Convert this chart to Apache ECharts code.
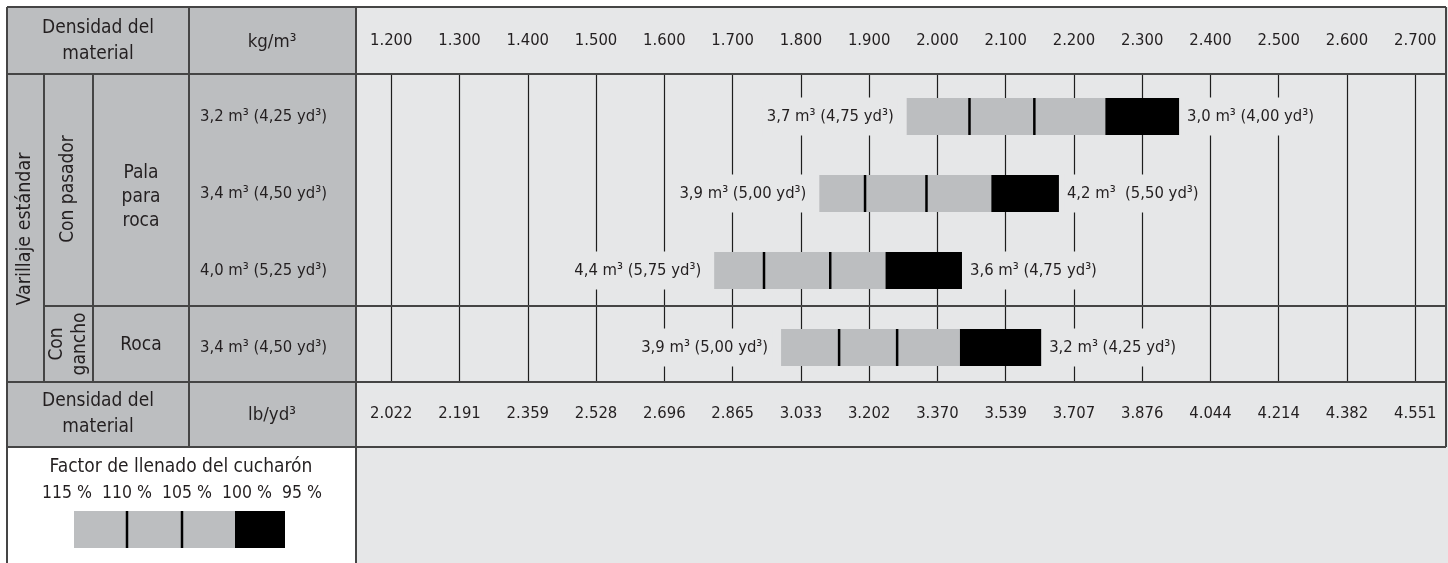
<!DOCTYPE html>
<html>
<head>
<meta charset="utf-8">
<script src="https://cdn.jsdelivr.net/npm/echarts@6/dist/echarts.min.js"></script>
<style>
html,body{margin:0;padding:0;background:#fff;}
#c{width:1448px;height:563px;}
</style>
</head>
<body>
<div id="c"></div>
<script>
// ---- data ----
const kgValues = [1200,1300,1400,1500,1600,1700,1800,1900,2000,2100,2200,2300,2400,2500,2600,2700];
const kgLabels = ['1.200','1.300','1.400','1.500','1.600','1.700','1.800','1.900','2.000','2.100','2.200','2.300','2.400','2.500','2.600','2.700'];
const lbLabels = ['2.022','2.191','2.359','2.528','2.696','2.865','3.033','3.202','3.370','3.539','3.707','3.876','4.044','4.214','4.382','4.551'];
const bucketLabels = ['3,2 m³ (4,25 yd³)','3,4 m³ (4,50 yd³)','4,0 m³ (5,25 yd³)','3,4 m³ (4,50 yd³)'];
const f115 = [1955, 1827, 1673, 1771];
const f110 = [2047, 1894, 1746, 1856];
const f105 = [2142, 1984, 1843, 1941];
const f100 = [2246, 2079, 1924, 2033];
const f95  = [2354, 2178, 2036, 2152];
const leftLabels  = ['3,7 m³ (4,75 yd³)','3,9 m³ (5,00 yd³)','4,4 m³ (5,75 yd³)','3,9 m³ (5,00 yd³)'];
const rightLabels = ['3,0 m³ (4,00 yd³)','4,2 m³  (5,50 yd³)','3,6 m³ (4,75 yd³)','3,2 m³ (4,25 yd³)'];
const fillFactors = ['115 %','110 %','105 %','100 %','95 %'];

// ---- styles ----
const FONT = '"Liberation Sans Narrow","Arial Narrow","DejaVu Sans Condensed",sans-serif';
const TXT = '#231f20';
const LIGHT = '#e6e7e8';
const MID = '#bcbec0';
const LINE = '#454545';
const NUM = 16.5;   // numeric text size
const WRD = 19;     // word text size

const rows = f115.map((v,i)=>[f115[i],f110[i],f105[i],f100[i],f95[i],i]);

function lbl(v, arr){ const i = kgValues.indexOf(v); return i < 0 ? '' : arr[i]; }

const g = [];
function rect(x,y,w,h,fill,z){ g.push({type:'rect',shape:{x,y,width:w,height:h},style:{fill},z:z===undefined?-5:z,silent:true}); }
function line(x1,y1,x2,y2,w,c,z){ g.push({type:'line',shape:{x1,y1,x2,y2},style:{stroke:c||LINE,lineWidth:w||2},z:z===undefined?20:z,silent:true}); }
function text(t,x,y,size,opts){ g.push(Object.assign({type:'text',x,y,z:20,silent:true,style:{text:t,fill:TXT,font:size+'px '+FONT,align:'center',verticalAlign:'middle',lineHeight:(opts&&opts.lh)||size}},opts&&opts.extra||{})); }

// backgrounds
rect(356,7,1092,556,LIGHT);
rect(7,7,349,440,MID);
// frame lines
line(7,7,1446,7);
line(7,74,1446,74);
line(44,306,1446,306);
line(7,382,1446,382);
line(7,447,1446,447);
line(7,7,7,563);
line(44,74,44,382);
line(93,74,93,382);
line(189,7,189,447);
line(356,7,356,563);
line(1446,7,1446,447);
// header texts
text('Densidad del\nmaterial',98,41,WRD,{lh:26});
text('kg/m³',272,42,WRD-0.5);
text('Varillaje estándar',25,229,WRD+0.5,{extra:{rotation:Math.PI/2}});
text('Con pasador',68,189,WRD,{extra:{rotation:Math.PI/2}});
text('Con\ngancho',69,344,WRD,{lh:23,extra:{rotation:Math.PI/2}});
text('Pala\npara\nroca',141,197,WRD,{lh:24});
text('Roca',141,345,WRD);
text('Densidad del\nmaterial',98,414,WRD,{lh:26});
text('lb/yd³',272,415,WRD-0.5);
// legend
text('Factor de llenado del cucharón',181,467,WRD);
text(fillFactors.join('  '),182,493,NUM+1);
rect(74,511,161,37,MID,10);
rect(235,511,50,37,'#000',10);
line(127,511,127,548,2.5,'#000');
line(182,511,182,548,2.5,'#000');

const chart = echarts.init(document.getElementById('c'));
chart.setOption({
  animation:false,
  backgroundColor:'#ffffff',
  grid:[
    {left:323,right:2,top:74,bottom:181},
    {left:323,right:2,top:78,bottom:177}
  ],
  xAxis:[
    {gridIndex:0,type:'value',position:'top',min:1100,max:2745,interval:100,
     axisLine:{show:false},axisTick:{show:false},
     splitLine:{show:true,showMinLine:false,showMaxLine:false,lineStyle:{color:'#1e1e1e',width:1.2}},
     axisLabel:{margin:33,verticalAlign:'middle',fontSize:NUM,fontFamily:FONT,color:TXT,
       formatter:v=>lbl(v,kgLabels),showMinLabel:false,showMaxLabel:false}},
    {gridIndex:0,type:'value',position:'bottom',min:1100,max:2745,interval:100,
     axisLine:{show:false},axisTick:{show:false},splitLine:{show:false},
     axisLabel:{margin:32,verticalAlign:'middle',fontSize:NUM,fontFamily:FONT,color:TXT,
       formatter:v=>lbl(v,lbLabels),showMinLabel:false,showMaxLabel:false}},
    {gridIndex:1,type:'value',min:1100,max:2745,show:false}
  ],
  yAxis:[
    {gridIndex:0,type:'value',show:false},
    {gridIndex:1,type:'category',data:bucketLabels,inverse:true,
     axisLine:{show:false},axisTick:{show:false},splitLine:{show:false},
     axisLabel:{align:'left',margin:123,fontSize:NUM,fontFamily:FONT,color:TXT}}
  ],
  series:[{
    type:'custom',
    xAxisIndex:2,yAxisIndex:1,
    encode:{x:[0,1,2,3,4],y:5},
    data:rows,
    renderItem:function(params,api){
      const i = api.value(5);
      const cy = api.coord([api.value(0), i])[1];
      const h = api.size([0,1])[1]*0.48;
      const X = k => api.coord([api.value(k), i])[0];
      const x0=X(0), x1=X(1), x2=X(2), x3=X(3), x4=X(4);
      const top = cy - h/2;
      const font = NUM+'px '+FONT;
      return {type:'group',children:[
        {type:'rect',shape:{x:x0,y:top,width:x3-x0,height:h},style:{fill:MID}},
        {type:'rect',shape:{x:x3,y:top,width:x4-x3,height:h},style:{fill:'#000'}},
        {type:'line',shape:{x1:x1,y1:top,x2:x1,y2:top+h},style:{stroke:'#000',lineWidth:2.5}},
        {type:'line',shape:{x1:x2,y1:top,x2:x2,y2:top+h},style:{stroke:'#000',lineWidth:2.5}},
        {type:'text',style:{text:leftLabels[i],x:x0-9,y:cy,align:'right',verticalAlign:'middle',
          fill:TXT,font:font,lineHeight:20,backgroundColor:LIGHT,padding:[9,4,9,4]}},
        {type:'text',style:{text:rightLabels[i],x:x4+6,y:cy,align:'left',verticalAlign:'middle',
          fill:TXT,font:font,lineHeight:20,backgroundColor:LIGHT,padding:[9,4,9,2]}}
      ]};
    }
  }],
  graphic:g
});
</script>
</body>
</html>
